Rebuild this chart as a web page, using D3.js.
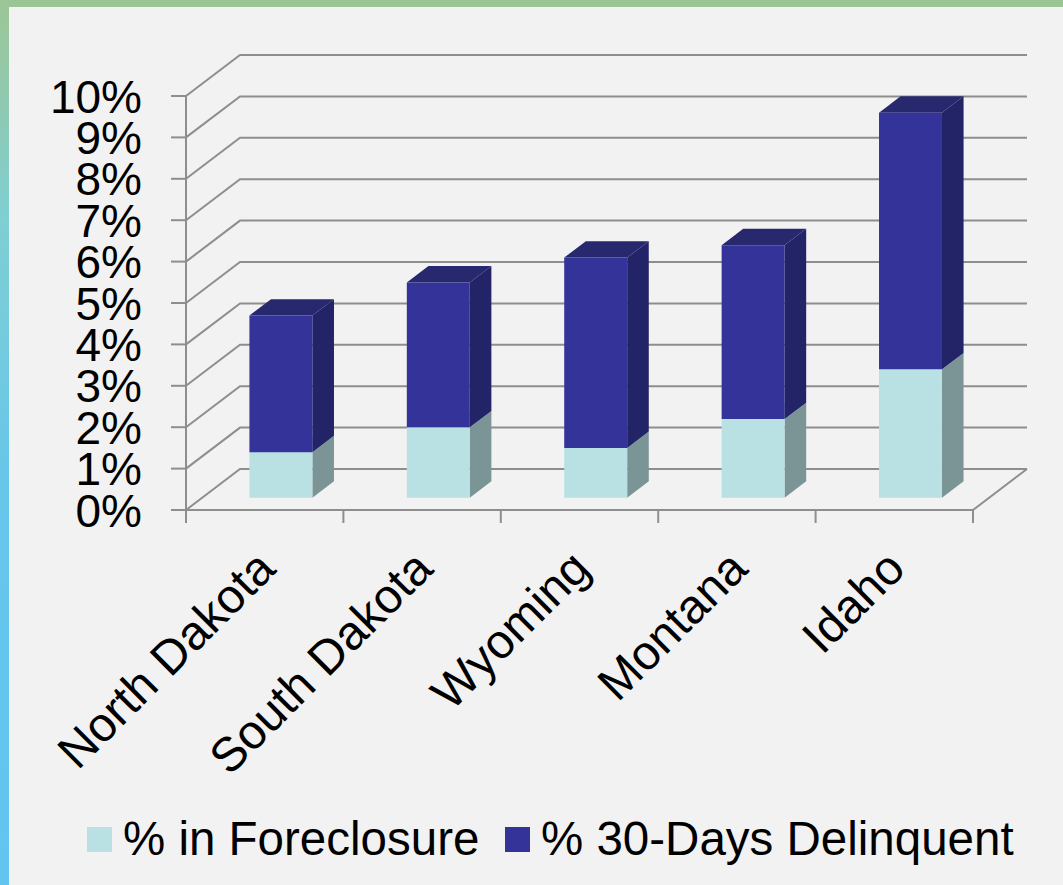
<!DOCTYPE html>
<html>
<head>
<meta charset="utf-8">
<script src="https://cdn.jsdelivr.net/npm/d3@7"></script>
<style>
  html, body { margin: 0; padding: 0; background: #f2f2f2; }
  svg { display: block; }
  text { font-family: "Liberation Sans", Arial, sans-serif; fill: #000; }
</style>
</head>
<body>
<svg id="chart" width="1063" height="885"></svg>
<script>
const categories = ["North Dakota", "South Dakota", "Wyoming", "Montana", "Idaho"];
const foreclosure = [1.1, 1.7, 1.2, 1.9, 3.1];
const delinquent = [3.3, 3.5, 4.6, 4.2, 6.2];
const tickValues = [0, 1, 2, 3, 4, 5, 6, 7, 8, 9, 10];
const tickLabels = ["0%", "1%", "2%", "3%", "4%", "5%", "6%", "7%", "8%", "9%", "10%"];
const seriesNames = ["% in Foreclosure", "% 30-Days Delinquent"];

const W = 1063, H = 885;
const svg = d3.select("#chart");

// frame background
const defs = svg.append("defs");
const lg = defs.append("linearGradient").attr("id", "leftStrip")
  .attr("x1", 0).attr("y1", 0).attr("x2", 0).attr("y2", 1);
lg.append("stop").attr("offset", "0%").attr("stop-color", "#9dc595");
lg.append("stop").attr("offset", "25%").attr("stop-color", "#7fcfd3");
lg.append("stop").attr("offset", "55%").attr("stop-color", "#66c6ea");
lg.append("stop").attr("offset", "100%").attr("stop-color", "#62c4f0");
svg.append("rect").attr("width", W).attr("height", H).attr("fill", "#f2f2f2");
svg.append("rect").attr("x", 0).attr("y", 0).attr("width", W).attr("height", 7).attr("fill", "#9cc595");
svg.append("rect").attr("x", 0).attr("y", 0).attr("width", 9).attr("height", H).attr("fill", "url(#leftStrip)");

// 3D geometry
const X0 = 186, X1 = 973, Y0 = 510, YTOP = 96;
const DX = 54, DY = 41;
const y = d3.scaleLinear().domain([0, 10]).range([Y0, YTOP]);
const x = d3.scaleBand().domain(categories).range([X0, X1]).paddingInner(0).paddingOuter(0);
const proj = (px, v, d) => [px + d * DX, y(v) - d * DY];

const gridColor = "#8e8e8e";
const g = svg.append("g");

// back wall gridlines + side wall lines
tickValues.forEach(v => {
  const a = proj(X0, v, 0), b = proj(X0, v, 1), c = proj(X1, v, 1);
  g.append("path").attr("d", `M${a[0]},${a[1]}L${b[0]},${b[1]}L${c[0]},${c[1]}`)
    .attr("fill", "none").attr("stroke", gridColor).attr("stroke-width", 2);
});
// floor right edge
{
  const a = proj(X1, 0, 0), b = proj(X1, 0, 1);
  g.append("line").attr("x1", a[0]).attr("y1", a[1]).attr("x2", b[0]).attr("y2", b[1])
    .attr("stroke", gridColor).attr("stroke-width", 2);
}
// front vertical axis
g.append("line").attr("x1", X0).attr("y1", y(10)).attr("x2", X0).attr("y2", Y0)
  .attr("stroke", gridColor).attr("stroke-width", 2);
// front floor line (category axis)
g.append("line").attr("x1", X0).attr("y1", Y0).attr("x2", X1).attr("y2", Y0)
  .attr("stroke", gridColor).attr("stroke-width", 2);
// left ticks
tickValues.forEach(v => {
  g.append("line").attr("x1", X0 - 15).attr("y1", y(v)).attr("x2", X0).attr("y2", y(v))
    .attr("stroke", gridColor).attr("stroke-width", 2);
});
// bottom ticks
const edges = categories.map(c => x(c)).concat([X1]);
edges.forEach(ex => {
  g.append("line").attr("x1", ex).attr("y1", Y0).attr("x2", ex).attr("y2", Y0 + 13)
    .attr("stroke", gridColor).attr("stroke-width", 2);
});

// y tick labels
svg.append("g").selectAll("text").data(tickValues).join("text")
  .attr("x", 142).attr("y", v => y(v)).attr("dy", "0.36em")
  .attr("text-anchor", "end").attr("font-size", 46)
  .text((v, i) => tickLabels[i]);

// bars
const colors = {
  light: { front: "#b9e0e3", side: "#7b9596", top: "#a8cfd2" },
  dark: { front: "#333399", side: "#232368", top: "#28286f" }
};
const d0 = 0.3, d1 = 0.7, bwFrac = 0.4;
const bars = svg.append("g");
function poly(pts) { return "M" + pts.map(p => p.join(",")).join("L") + "Z"; }
function drawBox(xl, xr, v0, v1, col) {
  const fl = proj(xl, v0, d0), fr = proj(xr, v0, d0), tl = proj(xl, v1, d0), tr = proj(xr, v1, d0);
  const brb = proj(xr, v0, d1), brt = proj(xr, v1, d1), blt = proj(xl, v1, d1);
  bars.append("path").attr("d", poly([fr, brb, brt, tr])).attr("fill", col.side);
  bars.append("path").attr("d", poly([tl, tr, brt, blt])).attr("fill", col.top);
  bars.append("path").attr("d", poly([fl, fr, tr, tl])).attr("fill", col.front);
}
categories.forEach((c, i) => {
  const bw = x.bandwidth() * bwFrac;
  const xl = x(c) + (x.bandwidth() - bw) / 2, xr = xl + bw;
  drawBox(xl, xr, 0, foreclosure[i], colors.light);
  drawBox(xl, xr, foreclosure[i], foreclosure[i] + delinquent[i], colors.dark);
});

// category labels
svg.append("g").selectAll("text").data(categories).join("text")
  .attr("text-anchor", "end").attr("font-size", 48)
  .attr("transform", c => `translate(${x(c) + x.bandwidth() / 2 + 13},571) rotate(-45)`)
  .text(c => c);

// legend
const legend = svg.append("g");
const legendItems = [
  { name: seriesNames[0], color: colors.light.front, sx: 87, tx: 123 },
  { name: seriesNames[1], color: colors.dark.front, sx: 505, tx: 541 }
];
legendItems.forEach(it => {
  legend.append("rect").attr("x", it.sx).attr("y", 827).attr("width", 25).attr("height", 25).attr("fill", it.color);
  legend.append("text").attr("x", it.tx).attr("y", 855).attr("font-size", 47.5).text(it.name);
});
</script>
</body>
</html>
